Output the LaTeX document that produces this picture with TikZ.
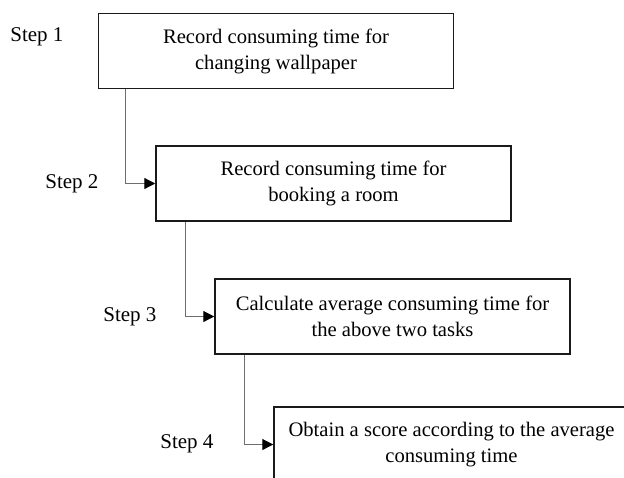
\documentclass[tikz,border=0pt]{standalone}
\usepackage{fontspec}
\setmainfont{Liberation Serif}
\usepackage{tikz}
\usetikzlibrary{arrows.meta}
\definecolor{boxline}{HTML}{1A1A1A}
\definecolor{connline}{HTML}{6E6E6E}

\begin{document}
\begin{tikzpicture}[x=0.5pt, y=-0.5pt,
  stepbox/.style={draw=boxline, line width=0.75pt, minimum width=177.5pt, minimum height=37.5pt, align=center, inner sep=0pt, font=\rmfamily\fontsize{10.3}{13}\selectfont},
  steplabel/.style={anchor=west, inner sep=0pt, font=\rmfamily\fontsize{10.5}{13}\selectfont},
  conn/.style={draw=connline, line width=0.6pt, -{Triangle[length=5.5pt,width=5.5pt,fill=black,color=black]}}]
\useasboundingbox (0,0) rectangle (624,477);
\node[stepbox] (rec1) at (276,51) {Record consuming time for\\changing wallpaper};
\node[stepbox] (rec2) at (333.5,183.5) {Record consuming time for\\booking a room};
\node[stepbox] (avg) at (392.5,316.5) {Calculate average consuming time for\\the above two tasks};
\node[stepbox] (score) at (451.5,444.5) {Obtain a score according to the average\\consuming time};
\node[steplabel] (s1) at (10,37) {Step 1};
\node[steplabel] (s2) at (45,184) {Step 2};
\node[steplabel] (s3) at (103,317) {Step 3};
\node[steplabel] (s4) at (160,444) {Step 4};
\draw[conn] ([xshift=14pt]rec1.south west) |- (rec2.west);
\draw[conn] ([xshift=15pt]rec2.south west) |- (avg.west);
\draw[conn] ([xshift=15pt]avg.south west) |- (score.west);
\end{tikzpicture}
\end{document}
